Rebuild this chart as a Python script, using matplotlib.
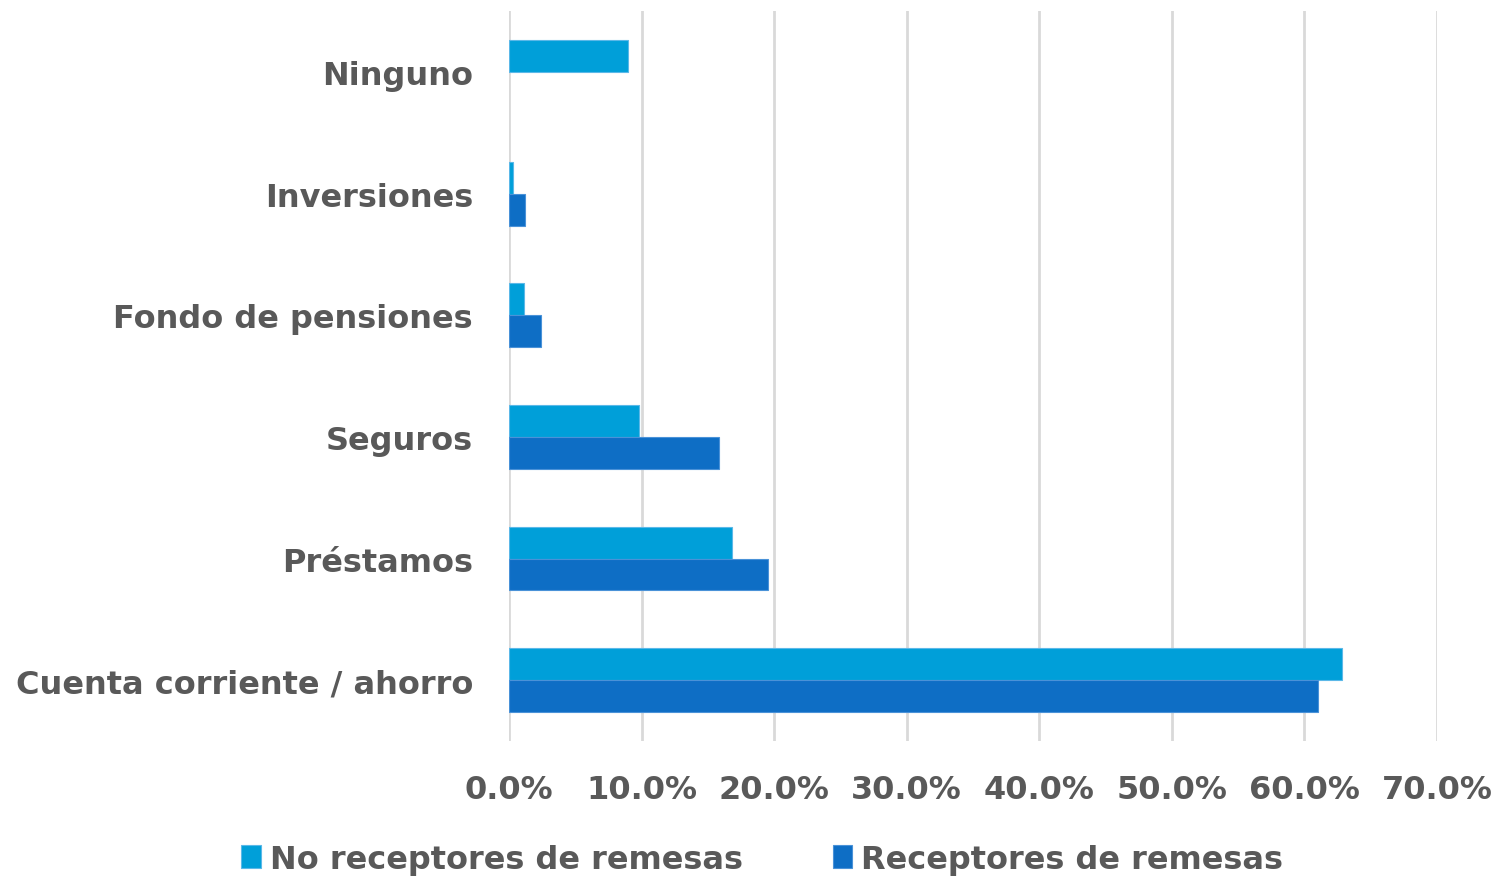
import matplotlib
import matplotlib.pyplot as plt
import numpy as np
from matplotlib.ticker import PercentFormatter

matplotlib.use('Agg')

categories = ['Cuenta corriente / ahorro', 'Préstamos', 'Seguros',
              'Fondo de pensiones', 'Inversiones', 'Ninguno']
no_receptores = [62.8, 16.85, 9.8, 1.13, 0.33, 9.0]
receptores = [61.05, 19.5, 15.85, 2.4, 1.18, 0.0]
series_names = ['No receptores de remesas', 'Receptores de remesas']

grey = '#595959'
c_no = '#009FD9'
c_rec = '#0E6EC5'

plt.rcParams['font.family'] = ['DejaVu Sans']

fig = plt.figure(figsize=(14.95, 8.78), dpi=100)
ax = fig.add_axes([0.3405, 0.155, 0.6207, 0.831])

y = np.arange(len(categories))
h = 0.262
ax.barh(y + h / 2, no_receptores, height=h, color=c_no, label=series_names[0],
        edgecolor='#5BB8E8', linewidth=[0.8 if v > 0 else 0 for v in no_receptores], zorder=3)
ax.barh(y - h / 2, receptores, height=h, color=c_rec, label=series_names[1],
        edgecolor='#4A92D8', linewidth=[0.8 if v > 0 else 0 for v in receptores], zorder=3)

ax.set_xlim(0, 70)
ax.set_ylim(-0.5, 5.5)
ax.set_xticks(np.arange(0, 71, 10))
ax.xaxis.set_major_formatter(PercentFormatter(decimals=1))
ax.set_yticks(y)
ax.set_yticklabels(categories)

ax.grid(axis='x', color='#D9D9D9', linewidth=2, zorder=0)
for s in ax.spines.values():
    s.set_visible(False)
ax.tick_params(axis='both', length=0, labelcolor=grey, labelsize=23)
ax.tick_params(axis='x', pad=24)
ax.tick_params(axis='y', pad=26)
for t in ax.get_xticklabels() + ax.get_yticklabels():
    t.set_fontweight('bold')

leg = fig.legend(loc='lower center', bbox_to_anchor=(0.51, -0.03), ncol=2, frameon=False,
                 prop={'size': 23, 'weight': 'bold'}, handlelength=0.6, handleheight=0.75,
                 handletextpad=0.3, columnspacing=2.8)
for t in leg.get_texts():
    t.set_color(grey)

fig.savefig('out.png', dpi=100)
